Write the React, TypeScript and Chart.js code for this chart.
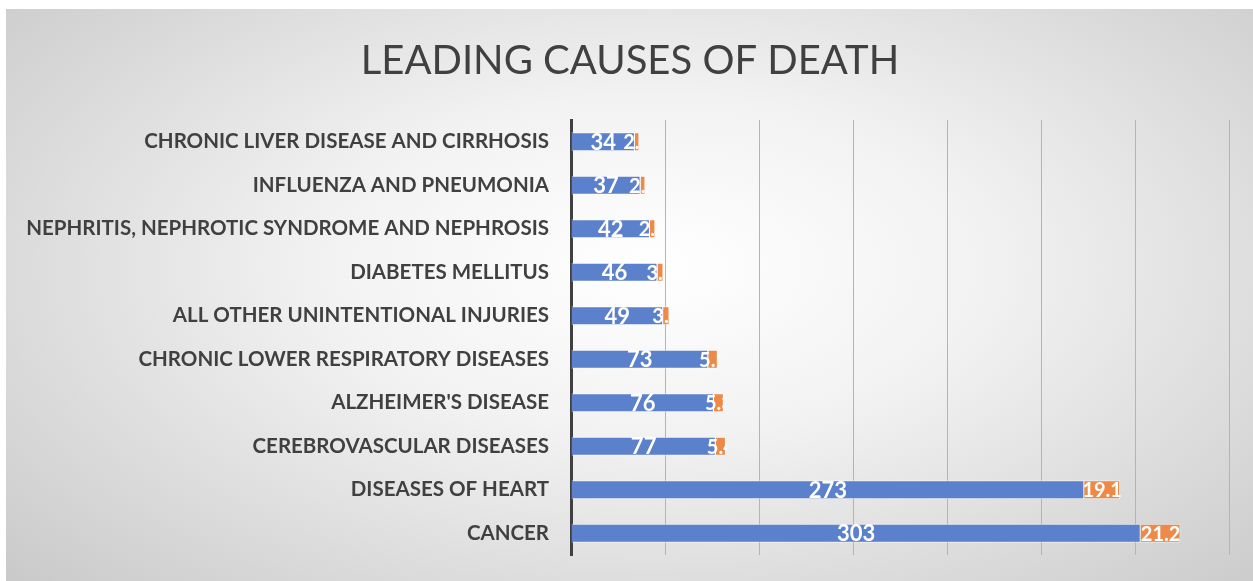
import React, { useEffect, useRef } from "react";
import { Chart, registerables } from "chart.js";

Chart.register(...registerables);

const categories = [
  "CHRONIC LIVER DISEASE AND CIRRHOSIS",
  "INFLUENZA AND PNEUMONIA",
  "NEPHRITIS, NEPHROTIC SYNDROME AND NEPHROSIS",
  "DIABETES MELLITUS",
  "ALL OTHER UNINTENTIONAL INJURIES",
  "CHRONIC LOWER RESPIRATORY DISEASES",
  "ALZHEIMER'S DISEASE",
  "CEREBROVASCULAR DISEASES",
  "DISEASES OF HEART",
  "CANCER",
];
const deaths = [34, 37, 42, 46, 49, 73, 76, 77, 273, 303];
const percents = [2.4, 2.6, 2.9, 3.2, 3.4, 5.1, 5.3, 5.4, 19.1, 21.2];
const titleText = "LEADING CAUSES OF DEATH";

const FONT = "Lato, Calibri, 'Liberation Sans', sans-serif";

const titlePlugin = {
  id: "customTitle",
  afterDraw(chart: any) {
    const ctx = chart.ctx;
    ctx.save();
    ctx.font = `normal 40px ${FONT}`;
    ctx.fillStyle = "#404040";
    ctx.textAlign = "center";
    ctx.textBaseline = "middle";
    ctx.fillText(titleText, 624, 52);
    ctx.restore();
  },
};

const labelPlugin = {
  id: "barLabels",
  afterDatasetsDraw(chart: any) {
    const ctx = chart.ctx;
    chart.data.datasets.forEach((ds: any, di: number) => {
      const meta = chart.getDatasetMeta(di);
      meta.data.forEach((bar: any, i: number) => {
        const v = ds.data[i];
        const left = bar.base;
        const right = bar.x;
        const cx = (left + right) / 2;
        ctx.save();
        ctx.font = `bold ${di === 0 ? 22 : 20}px ${FONT}`;
        ctx.fillStyle = "#ffffff";
        ctx.textAlign = "center";
        ctx.textBaseline = "middle";
        if (di === 1) {
          ctx.beginPath();
          ctx.rect(0, bar.y - 15, right + 1, 30);
          ctx.clip();
        }
        ctx.fillText(String(v), cx, bar.y + 1);
        ctx.restore();
      });
    });
  },
};

export default function App() {
  const ref = useRef<HTMLCanvasElement>(null);
  useEffect(() => {
    if (!ref.current) return;
    const chart = new Chart(ref.current, {
      type: "bar",
      data: {
        labels: categories,
        datasets: [
          {
            label: "Deaths",
            data: deaths,
            backgroundColor: "#5b80cc",
            borderColor: "rgba(255,255,255,0.55)",
            borderWidth: 1,
            barPercentage: 0.44,
            categoryPercentage: 1,
          },
          {
            label: "Percent",
            data: percents,
            backgroundColor: "#ee8a48",
            borderColor: "rgba(255,255,255,0.55)",
            borderWidth: 1,
            barPercentage: 0.44,
            categoryPercentage: 1,
          },
        ],
      },
      options: {
        indexAxis: "y",
        animation: false,
        responsive: false,
        maintainAspectRatio: false,
        layout: { padding: { left: 0, right: 24, top: 111, bottom: 26 } },
        plugins: {
          legend: { display: false },
          tooltip: { enabled: false },
          title: { display: false },
        },
        scales: {
          x: {
            stacked: true,
            min: 0,
            max: 350,
            ticks: { display: false, stepSize: 50 },
            grid: { color: "#b4b4b4", lineWidth: 1, drawTicks: false },
            border: { display: false },
            afterFit(scale: any) {
              scale.height = 0;
              scale.paddingLeft = 0;
              scale.paddingRight = 0;
            },
          },
          y: {
            stacked: true,
            afterFit(scale: any) {
              scale.width = 565;
              scale.paddingTop = 0;
              scale.paddingBottom = 0;
            },
            ticks: {
              color: "#404040",
              font: { family: FONT, size: 20.5, weight: "bold" },
              padding: 22,
            },
            grid: { display: false, drawTicks: false },
            border: { display: true, color: "#404040", width: 3 },
          },
        },
      },
      plugins: [labelPlugin, titlePlugin],
    });
    return () => chart.destroy();
  }, []);
  return (
    <div
      style={{
        position: "absolute",
        left: 6,
        top: 9,
        width: 1247,
        height: 572,
        background:
          "radial-gradient(ellipse 75% 85% at 52% 45%, #ffffff 0%, #f2f2f2 35%, #dadada 70%, #c6c6c6 100%)",
      }}
    >
      <canvas ref={ref} width={1247} height={572} style={{ display: "block" }} />
    </div>
  );
}
